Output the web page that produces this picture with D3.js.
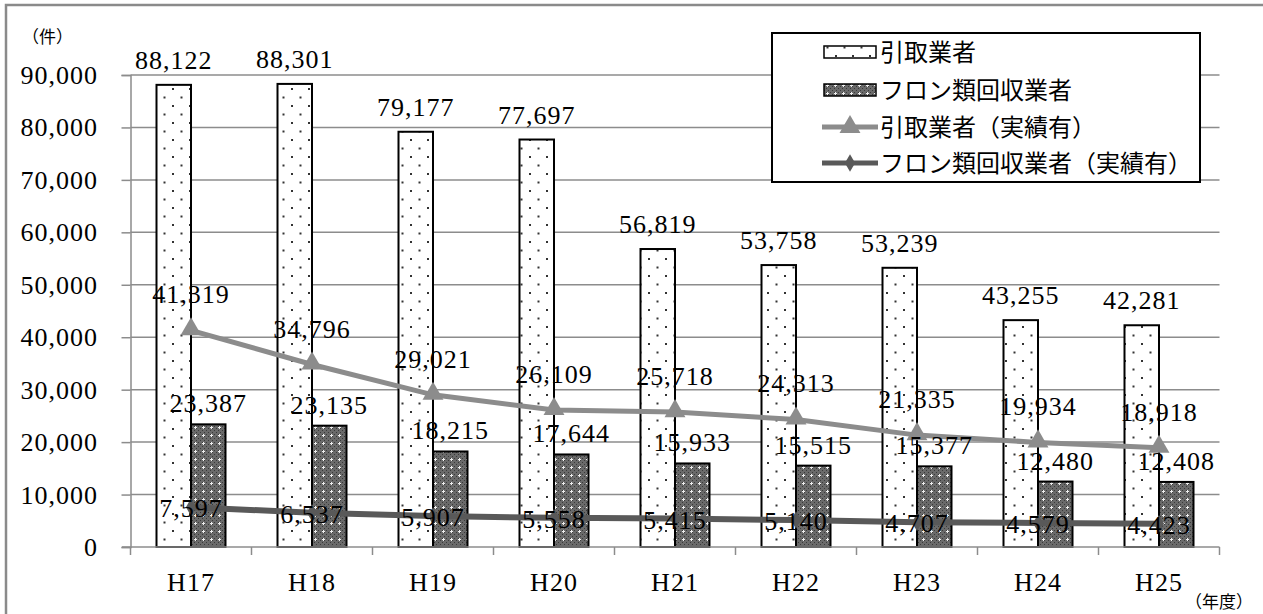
<!DOCTYPE html>
<html>
<head>
<meta charset="utf-8">
<script src="https://cdn.jsdelivr.net/npm/d3@7"></script>
<style>
  body { margin: 0; background: #fff; }
  svg { display: block; }
  .num { font-family: 'Liberation Serif', 'DejaVu Serif', serif; }
  .jp { font-family: 'Noto Sans CJK JP', sans-serif; }
</style>
</head>
<body>
<div class="chart"></div>
<script>
// data
var years = ['H17', 'H18', 'H19', 'H20', 'H21', 'H22', 'H23', 'H24', 'H25'];
var hikitori = [88122, 88301, 79177, 77697, 56819, 53758, 53239, 43255, 42281];
var freon = [23387, 23135, 18215, 17644, 15933, 15515, 15377, 12480, 12408];
var hikitoriJisseki = [41319, 34796, 29021, 26109, 25718, 24313, 21335, 19934, 18918];
var freonJisseki = [7597, 6537, 5907, 5558, 5415, 5140, 4707, 4579, 4423];
var yTicks = [0, 10000, 20000, 30000, 40000, 50000, 60000, 70000, 80000, 90000];
var legendNames = ['引取業者', 'フロン類回収業者', '引取業者（実績有）', 'フロン類回収業者（実績有）'];

var svgWidth = 1263;
var svgHeight = 614;
var fmt = d3.format(',');

var svg = d3.select('.chart').append('svg')
    .attr('width', svgWidth)
    .attr('height', svgHeight);

// patterns for the two bar series
var defs = svg.append('defs');
var dots = defs.append('pattern')
    .attr('id', 'dots')
    .attr('patternUnits', 'userSpaceOnUse')
    .attr('width', 17).attr('height', 17);
dots.append('rect').attr('width', 17).attr('height', 17).attr('fill', '#fff');
dots.append('rect').attr('x', 2).attr('y', 3).attr('width', 2).attr('height', 2).attr('fill', '#333');
dots.append('rect').attr('x', 10.5).attr('y', 11.5).attr('width', 2).attr('height', 2).attr('fill', '#333');

var hatch = defs.append('pattern')
    .attr('id', 'hatch')
    .attr('patternUnits', 'userSpaceOnUse')
    .attr('width', 8).attr('height', 8);
hatch.append('rect').attr('width', 8).attr('height', 8).attr('fill', '#6a6a6a');
[[0, 0], [2, 2], [4, 0], [6, 2], [0, 4], [2, 6], [6, 6], [4, 4]].forEach(function(p) {
    hatch.append('rect').attr('x', p[0]).attr('y', p[1]).attr('width', 1).attr('height', 1).attr('fill', '#3a3a3a');
});
hatch.append('rect').attr('x', 3).attr('y', 2).attr('width', 1).attr('height', 3).attr('fill', '#eee');
hatch.append('rect').attr('x', 2).attr('y', 3).attr('width', 3).attr('height', 1).attr('fill', '#eee');

// outer frame
svg.append('rect')
    .attr('x', 6).attr('y', 5)
    .attr('width', 1300).attr('height', 700)
    .attr('fill', 'none')
    .attr('stroke', '#8a8a8a')
    .attr('stroke-width', 2.5);

var x = d3.scaleBand().domain(years).range([130.5, 1219.5]);
var y = d3.scaleLinear().domain([0, 90000]).range([547, 75]);
var barW = 34.5;

// gridlines
svg.append('g').selectAll('line')
    .data(yTicks.slice(1))
    .enter()
    .append('line')
    .attr('x1', 130.5).attr('x2', 1219.5)
    .attr('y1', function(d) { return y(d); })
    .attr('y2', function(d) { return y(d); })
    .attr('stroke', '#8c8c8c')
    .attr('stroke-width', 1.5);

// y axis
var yAxis = svg.append('g')
    .attr('transform', 'translate(130.5,0)')
    .call(d3.axisLeft(y).tickValues(yTicks).tickSize(9).tickFormat(''));
yAxis.selectAll('line, path').attr('stroke', '#8c8c8c').attr('stroke-width', 1.5);

svg.append('g').selectAll('text')
    .data(yTicks)
    .enter()
    .append('text')
    .attr('class', 'num')
    .text(function(d) { return fmt(d); })
    .attr('x', 98)
    .attr('y', function(d) { return y(d) + 9; })
    .attr('text-anchor', 'end')
    .attr('font-size', '26px')
    .attr('letter-spacing', '1px')
    .attr('fill', '#000');

// bars
svg.append('g').selectAll('rect')
    .data(hikitori)
    .enter()
    .append('rect')
    .attr('x', function(d, i) { return x(years[i]) + x.bandwidth() / 2 - barW; })
    .attr('y', function(d) { return y(d); })
    .attr('width', barW)
    .attr('height', function(d) { return y(0) - y(d); })
    .attr('fill', 'url(#dots)')
    .attr('stroke', '#000')
    .attr('stroke-width', 2);

svg.append('g').selectAll('rect')
    .data(freon)
    .enter()
    .append('rect')
    .attr('x', function(d, i) { return x(years[i]) + x.bandwidth() / 2; })
    .attr('y', function(d) { return y(d); })
    .attr('width', barW)
    .attr('height', function(d) { return y(0) - y(d); })
    .attr('fill', 'url(#hatch)')
    .attr('stroke', '#000')
    .attr('stroke-width', 2);

// x axis
var xAxis = svg.append('g')
    .attr('transform', 'translate(0,547)');
xAxis.append('line')
    .attr('x1', 122).attr('x2', 1219.5)
    .attr('stroke', '#8c8c8c').attr('stroke-width', 1.5);
xAxis.selectAll('.tk')
    .data(years.concat(['end']))
    .enter()
    .append('line')
    .attr('x1', function(d, i) { return 130.5 + i * x.step(); })
    .attr('x2', function(d, i) { return 130.5 + i * x.step(); })
    .attr('y1', 0).attr('y2', 8)
    .attr('stroke', '#8c8c8c').attr('stroke-width', 1.5);

svg.append('g').selectAll('text')
    .data(years)
    .enter()
    .append('text')
    .attr('class', 'num')
    .text(function(d) { return d; })
    .attr('x', function(d) { return x(d) + x.bandwidth() / 2; })
    .attr('y', 591)
    .attr('text-anchor', 'middle')
    .attr('font-size', '26px')
    .attr('letter-spacing', '1px');

// lines
var center = function(d, i) { return x(years[i]) + x.bandwidth() / 2; };
var line = d3.line()
    .x(center)
    .y(function(d) { return y(d); });

svg.append('path')
    .datum(hikitoriJisseki)
    .attr('d', line)
    .attr('fill', 'none')
    .attr('stroke', '#8c8c8c')
    .attr('stroke-width', 5);

svg.append('g').selectAll('path')
    .data(hikitoriJisseki)
    .enter()
    .append('path')
    .attr('d', d3.symbol(d3.symbolTriangle, 190))
    .attr('transform', function(d, i) { return 'translate(' + center(d, i) + ',' + (y(d) - 1) + ')'; })
    .attr('fill', '#8c8c8c');

svg.append('path')
    .datum(freonJisseki)
    .attr('d', line)
    .attr('fill', 'none')
    .attr('stroke', '#595959')
    .attr('stroke-width', 6);

svg.append('g').selectAll('path')
    .data(freonJisseki)
    .enter()
    .append('path')
    .attr('d', d3.symbol(d3.symbolDiamond, 90))
    .attr('transform', function(d, i) { return 'translate(' + center(d, i) + ',' + y(d) + ')'; })
    .attr('fill', '#595959');

// data labels
function labels(data, dx, dy) {
    svg.append('g').selectAll('text')
        .data(data)
        .enter()
        .append('text')
        .attr('class', 'num')
        .text(function(d) { return fmt(d); })
        .attr('x', function(d, i) { return center(d, i) + dx; })
        .attr('y', function(d) { return y(d) + dy; })
        .attr('text-anchor', 'middle')
        .attr('font-size', '26px')
        .attr('letter-spacing', '1px')
        .attr('fill', '#000');
}
labels(hikitori, -barW / 2, -16);
labels(freon, barW / 2, -12);
labels(hikitoriJisseki, 0, -27);
labels(freonJisseki, 0, 10);

// unit labels
svg.append('text')
    .attr('class', 'jp')
    .text('（件）')
    .attr('x', 22).attr('y', 43)
    .attr('font-size', '17px');
svg.append('text')
    .attr('class', 'jp')
    .text('（年度）')
    .attr('x', 1185).attr('y', 608)
    .attr('font-size', '17px');

// legend
var legend = svg.append('g');
legend.append('rect')
    .attr('x', 772).attr('y', 33)
    .attr('width', 428).attr('height', 149)
    .attr('fill', '#fff')
    .attr('stroke', '#000')
    .attr('stroke-width', 2);

var rowY = [52, 90, 127, 163];
var item = legend.selectAll('g')
    .data(legendNames)
    .enter()
    .append('g')
    .attr('transform', function(d, i) { return 'translate(0,' + rowY[i] + ')'; });

item.append('text')
    .attr('class', 'jp')
    .text(function(d) { return d; })
    .attr('x', 880)
    .attr('y', 8.5)
    .attr('font-size', '24px');

item.filter(function(d, i) { return i < 2; })
    .append('rect')
    .attr('x', 824).attr('y', -6)
    .attr('width', 52).attr('height', 12)
    .attr('fill', function(d, i) { return i === 0 ? 'url(#dots)' : 'url(#hatch)'; })
    .attr('stroke', '#000')
    .attr('stroke-width', 1.5);

item.filter(function(d, i) { return i >= 2; })
    .append('line')
    .attr('x1', 822).attr('x2', 878)
    .attr('stroke', function(d, i) { return i === 0 ? '#8c8c8c' : '#595959'; })
    .attr('stroke-width', 5);

item.filter(function(d, i) { return i >= 2; })
    .append('path')
    .attr('d', function(d, i) {
        return i === 0 ? d3.symbol(d3.symbolTriangle, 190)() : d3.symbol(d3.symbolDiamond, 90)();
    })
    .attr('transform', 'translate(850,0)')
    .attr('fill', function(d, i) { return i === 0 ? '#8c8c8c' : '#595959'; });
</script>
</body>
</html>
